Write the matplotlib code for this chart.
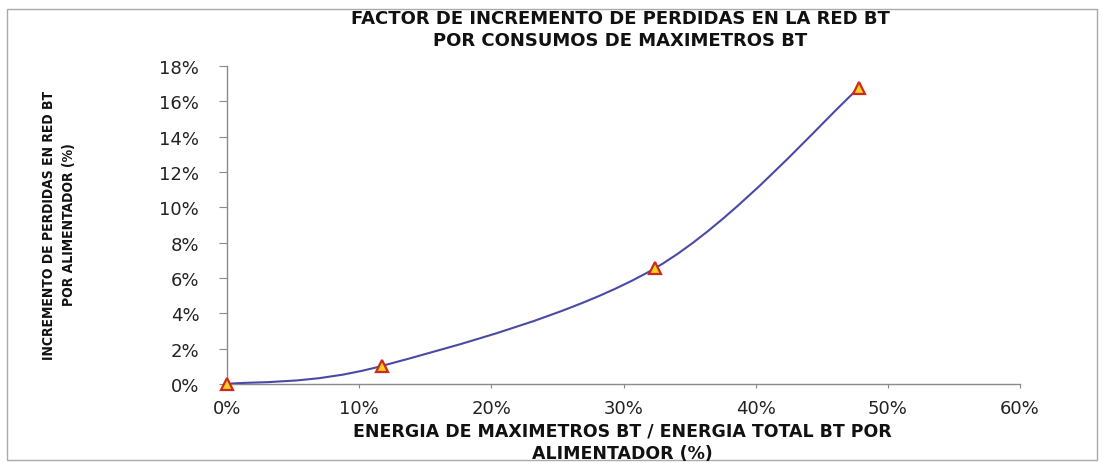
import matplotlib
matplotlib.use("Agg")
import matplotlib.pyplot as plt
from matplotlib.path import Path
from matplotlib.patches import PathPatch, Rectangle
from matplotlib.ticker import FuncFormatter
import numpy as np

plt.rcParams["font.family"] = ["DejaVu Sans"]

# Data
energia_maximetros = [0.0, 11.7, 32.4, 47.8]     # % x
incremento_perdidas = [0.0, 1.02, 6.56, 16.75]   # % y
x_ticks = [0, 10, 20, 30, 40, 50, 60]
y_ticks = [0, 2, 4, 6, 8, 10, 12, 14, 16, 18]

title = "FACTOR DE INCREMENTO DE PERDIDAS EN LA RED BT\nPOR CONSUMOS DE MAXIMETROS BT"
xlabel = "ENERGIA DE MAXIMETROS BT / ENERGIA TOTAL BT POR\nALIMENTADOR (%)"
ylabel = "INCREMENTO DE PERDIDAS EN RED BT\nPOR ALIMENTADOR (%)"

LINE_COLOR = "#4a4aa6"
AXIS_COLOR = "#8a8a8a"

fig = plt.figure(figsize=(11.02, 4.64), dpi=100)
fig.patch.set_facecolor("white")
ax = fig.add_axes([227/1102, 1-385/464, (1020-227)/1102, (385-67)/464])

# Excel-like smoothed line (Bezier through the data points)
pts = np.column_stack([energia_maximetros, incremento_perdidas])
n = len(pts)
verts = [tuple(pts[0])]
codes = [Path.MOVETO]
for i in range(n - 1):
    p0 = pts[i - 1] if i > 0 else pts[i]
    p1 = pts[i]
    p2 = pts[i + 1]
    p3 = pts[i + 2] if i + 2 < n else pts[i + 1]
    c1 = p1 + (p2 - p0) / 6.0
    c2 = p2 - (p3 - p1) / 6.0
    verts += [tuple(c1), tuple(c2), tuple(p2)]
    codes += [Path.CURVE4] * 3
ax.add_patch(PathPatch(Path(verts, codes), facecolor="none", edgecolor=LINE_COLOR,
                       lw=1.5, zorder=3))

ax.plot(energia_maximetros, incremento_perdidas, linestyle="none", marker="^",
        markersize=9, markerfacecolor="#f5d020", markeredgecolor="#cc2a1a",
        markeredgewidth=1.6, zorder=4, clip_on=False)

ax.set_xlim(0, 60)
ax.set_ylim(0, 18)
ax.set_xticks(x_ticks)
ax.set_yticks(y_ticks)
pct = FuncFormatter(lambda v, p: f"{v:.0f}%")
ax.xaxis.set_major_formatter(pct)
ax.yaxis.set_major_formatter(pct)

for side in ("top", "right"):
    ax.spines[side].set_visible(False)
for side in ("left", "bottom"):
    ax.spines[side].set_color(AXIS_COLOR)
    ax.spines[side].set_linewidth(1.0)

ax.tick_params(axis="y", direction="out", length=6, color=AXIS_COLOR, pad=14,
               labelsize=13, labelcolor="#222222")
ax.tick_params(axis="x", direction="out", length=3, color=AXIS_COLOR, pad=8,
               labelsize=13, labelcolor="#222222")

fig.text(620/1102, 1-30/464, title, ha="center", va="center", fontsize=13,
         fontweight="bold", linespacing=1.25, color="#111111")
fig.text(622/1102, 1-443/464, xlabel, ha="center", va="center", fontsize=12.5,
         fontweight="bold", linespacing=1.3, color="#111111")
fig.text(59/1102, 1-225/464, ylabel, ha="center", va="center", rotation=90,
         fontsize=10, fontweight="bold", fontstretch="condensed",
         linespacing=1.5, color="#111111")

# outer chart border
fig.add_artist(Rectangle((7/1102, 3/464), 1090/1102, 451/464,
                         transform=fig.transFigure, fill=False,
                         edgecolor="#aaaaaa", lw=1.0))

fig.savefig("out.png", dpi=100, facecolor="white")
